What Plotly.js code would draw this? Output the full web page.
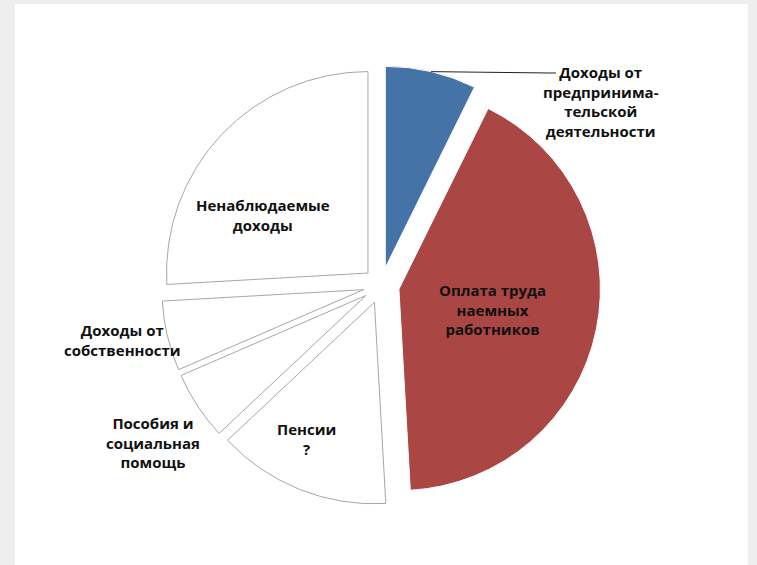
<!DOCTYPE html>
<html>
<head>
<meta charset="utf-8">
<script src="https://cdn.plot.ly/plotly-3.0.1.min.js"></script>
<style>
  html, body { margin: 0; padding: 0; background: #eeeeee; }
  #wrap { position: relative; width: 757px; height: 565px; overflow: hidden; }
  #sheet { position: absolute; left: 15px; top: 4px; width: 733px; height: 561px; background: #ffffff; }
  #chart { position: absolute; left: 0; top: 0; width: 757px; height: 565px; }
</style>
</head>
<body>
<div id="wrap"><div id="sheet"></div><div id="chart"></div></div>
<script>
// ---- data ----
var categories = [
  'Доходы от предпринимательской деятельности',
  'Оплата труда наемных работников',
  'Пенсии',
  'Пособия и социальная помощь',
  'Доходы от собственности',
  'Ненаблюдаемые доходы'
];
var shares = [7.3, 41.8, 13.9, 5.5, 5.6, 25.9];
var labelLines = [
  'Доходы от<br>предпринима-<br>тельской<br>деятельности',
  'Оплата труда<br>наемных<br>работников',
  'Пенсии<br>?',
  'Пособия и<br>социальная<br>помощь',
  'Доходы от<br>собственности',
  'Ненаблюдаемые<br>доходы'
];

// ---- layout / style ----
var W = 757, H = 565;
var pull = 0.09;
var domX = [0.15, 0.857], domY = [0.1060, 0.8834];
var sliceColors = ['#4572A7', '#AA4643', '#ffffff', '#ffffff', '#ffffff', '#ffffff'];
var sliceLines = ['#ffffff', '#ffffff', '#a6a6a6', '#a6a6a6', '#a6a6a6', '#a6a6a6'];
// label centres in pixels (text placement only)
var labelPos = [[601, 101], [492, 309], [306, 439], [153, 442], [122, 340], [263, 215]];

var font = { family: '"Open Sans", "DejaVu Sans", sans-serif', size: 15, color: '#111111' };

var annotations = labelLines.map(function (t, i) {
  return {
    text: '<b>' + t + '</b>', xref: 'paper', yref: 'paper',
    x: labelPos[i][0] / W, y: 1 - labelPos[i][1] / H,
    xanchor: 'center', yanchor: 'middle', showarrow: false, font: font, align: 'center'
  };
});

// leader line from the middle of the first slice's arc to its label
var total = shares.reduce(function (a, b) { return a + b; }, 0);
var theta = (shares[0] / total) * Math.PI; // half of the slice angle
var halfBox = Math.min((domX[1] - domX[0]) * W, (domY[1] - domY[0]) * H) / 2;
var cxp = (domX[0] + domX[1]) / 2 * W;
var cyp = H * (1 - domY[0]) - (domY[1] - domY[0]) * H / 2;
var ax = cxp + halfBox * Math.sin(theta), ay = cyp - halfBox * Math.cos(theta);
function px(x) { return (x / W).toFixed(5); }
function py(y) { return (1 - y / H).toFixed(5); }
var leader = {
  type: 'path', xref: 'paper', yref: 'paper',
  path: 'M ' + px(ax) + ' ' + py(ay) + ' L ' + px(550) + ' ' + py(73) + ' L ' + px(556) + ' ' + py(73),
  line: { color: '#222222', width: 1 }
};

var trace = {
  type: 'pie',
  labels: categories,
  values: shares,
  sort: false,
  direction: 'clockwise',
  rotation: 0,
  pull: shares.map(function () { return pull; }),
  domain: { x: domX, y: domY },
  marker: { colors: sliceColors, line: { color: sliceLines, width: 1 } },
  textinfo: 'none',
  hoverinfo: 'none',
  showlegend: false
};

var layout = {
  width: W, height: H,
  margin: { l: 0, r: 0, t: 0, b: 0 },
  paper_bgcolor: 'rgba(0,0,0,0)',
  plot_bgcolor: 'rgba(0,0,0,0)',
  showlegend: false,
  annotations: annotations,
  shapes: [leader]
};

Plotly.newPlot('chart', [trace], layout, { staticPlot: true, displayModeBar: false });
</script>
</body>
</html>
